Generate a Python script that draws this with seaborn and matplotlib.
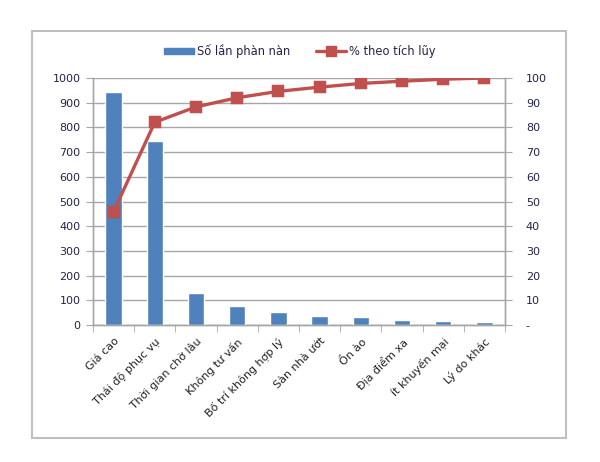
import numpy as np
import pandas as pd
import matplotlib
matplotlib.use("Agg")
import matplotlib.pyplot as plt
import seaborn as sns
from matplotlib.patches import Rectangle, Patch
from matplotlib.lines import Line2D

categories = ["Giá cao", "Thái độ phục vụ", "Thời gian chờ lâu", "Không tư vấn",
              "Bố trí không hợp lý", "Sàn nhà ướt", "Ồn ào", "Địa điểm xa",
              "ít khuyến mại", "Lý do khác"]
complaints = [943, 745, 128, 76, 53, 35, 31, 19, 15, 11]
cumulative_pct = [45.9, 82.1, 88.3, 92.0, 94.6, 96.3, 97.8, 98.7, 99.5, 100.0]
left_ticks = [0, 100, 200, 300, 400, 500, 600, 700, 800, 900, 1000]
right_ticks = [0, 10, 20, 30, 40, 50, 60, 70, 80, 90, 100]
right_labels = ["-", "10", "20", "30", "40", "50", "60", "70", "80", "90", "100"]
bar_label = "Số lần phàn nàn"
line_label = "% theo tích lũy"

sns.set_style("white")
plt.rcParams["font.family"] = ["DejaVu Sans"]

BLUE = "#4F81BD"
RED = "#C0504D"
GRID = "#A6A6A6"
TXT = "#23234a"

df = pd.DataFrame({"cat": categories, "n": complaints, "cum": cumulative_pct})

fig = plt.figure(figsize=(6.0, 4.62), dpi=100)
fig.patches.append(Rectangle((32/600, 1-438/462), (566-32)/600, (438-31)/462,
                             transform=fig.transFigure, fill=False,
                             edgecolor="#BFBFBF", lw=1.5, zorder=0))

ax = fig.add_axes([93/600, 1-325/462, (505-93)/600, (325-78)/462])
sns.barplot(data=df, x="cat", y="n", ax=ax, color=BLUE, width=0.4,
            saturation=1, zorder=3)
ax.set_ylim(0, 1000)
ax.set_xlim(-0.5, 9.5)
ax.set_yticks(left_ticks)
ax.yaxis.grid(True, color=GRID, lw=1, zorder=0)
ax.set_axisbelow(True)
ax.set_xlabel("")
ax.set_ylabel("")

ax2 = ax.twinx()
sns.pointplot(data=df, x="cat", y="cum", ax=ax2, color=RED, markers="s",
              markersize=7, linewidth=2.4, native_scale=False)
ax2.set_ylim(0, 100)
ax2.set_xlim(-0.5, 9.5)
ax2.set_yticks(right_ticks)
ax2.set_yticklabels(right_labels)
ax2.set_ylabel("")

for a in (ax, ax2):
    for s in ("left", "right", "bottom"):
        a.spines[s].set_color(GRID)
        a.spines[s].set_linewidth(1)
    a.spines["top"].set_visible(False)

ax.tick_params(axis="y", which="major", length=5, color=GRID, labelsize=8,
               labelcolor=TXT, pad=4, direction="out", left=True)
ax2.tick_params(axis="y", which="major", length=5, color=GRID, labelsize=8,
                labelcolor=TXT, pad=10, direction="out", right=True)

ax.set_xticks(range(len(categories)))
ax.set_xticklabels(categories, rotation=45, ha="right", rotation_mode="anchor",
                   fontsize=8, color="#222222")
ax.set_xticks(np.arange(-0.5, len(categories), 1.0), minor=True)
ax.tick_params(axis="x", which="major", length=0, pad=8)
ax.tick_params(axis="x", which="minor", length=5, color=GRID, direction="out",
               bottom=True)
ax2.tick_params(axis="x", which="both", length=0)

handles = [Patch(facecolor=BLUE, edgecolor=BLUE, label=bar_label),
           Line2D([0], [0], color=RED, lw=2.4, marker="s", markersize=7,
                  label=line_label)]
fig.legend(handles=handles, loc="center", bbox_to_anchor=(0.5, 1-51/462),
           ncol=2, frameon=False, fontsize=8.3, handlelength=2.6,
           handleheight=0.5, columnspacing=2.2, handletextpad=0.3,
           labelcolor=TXT)

fig.savefig("out.png", dpi=100)
